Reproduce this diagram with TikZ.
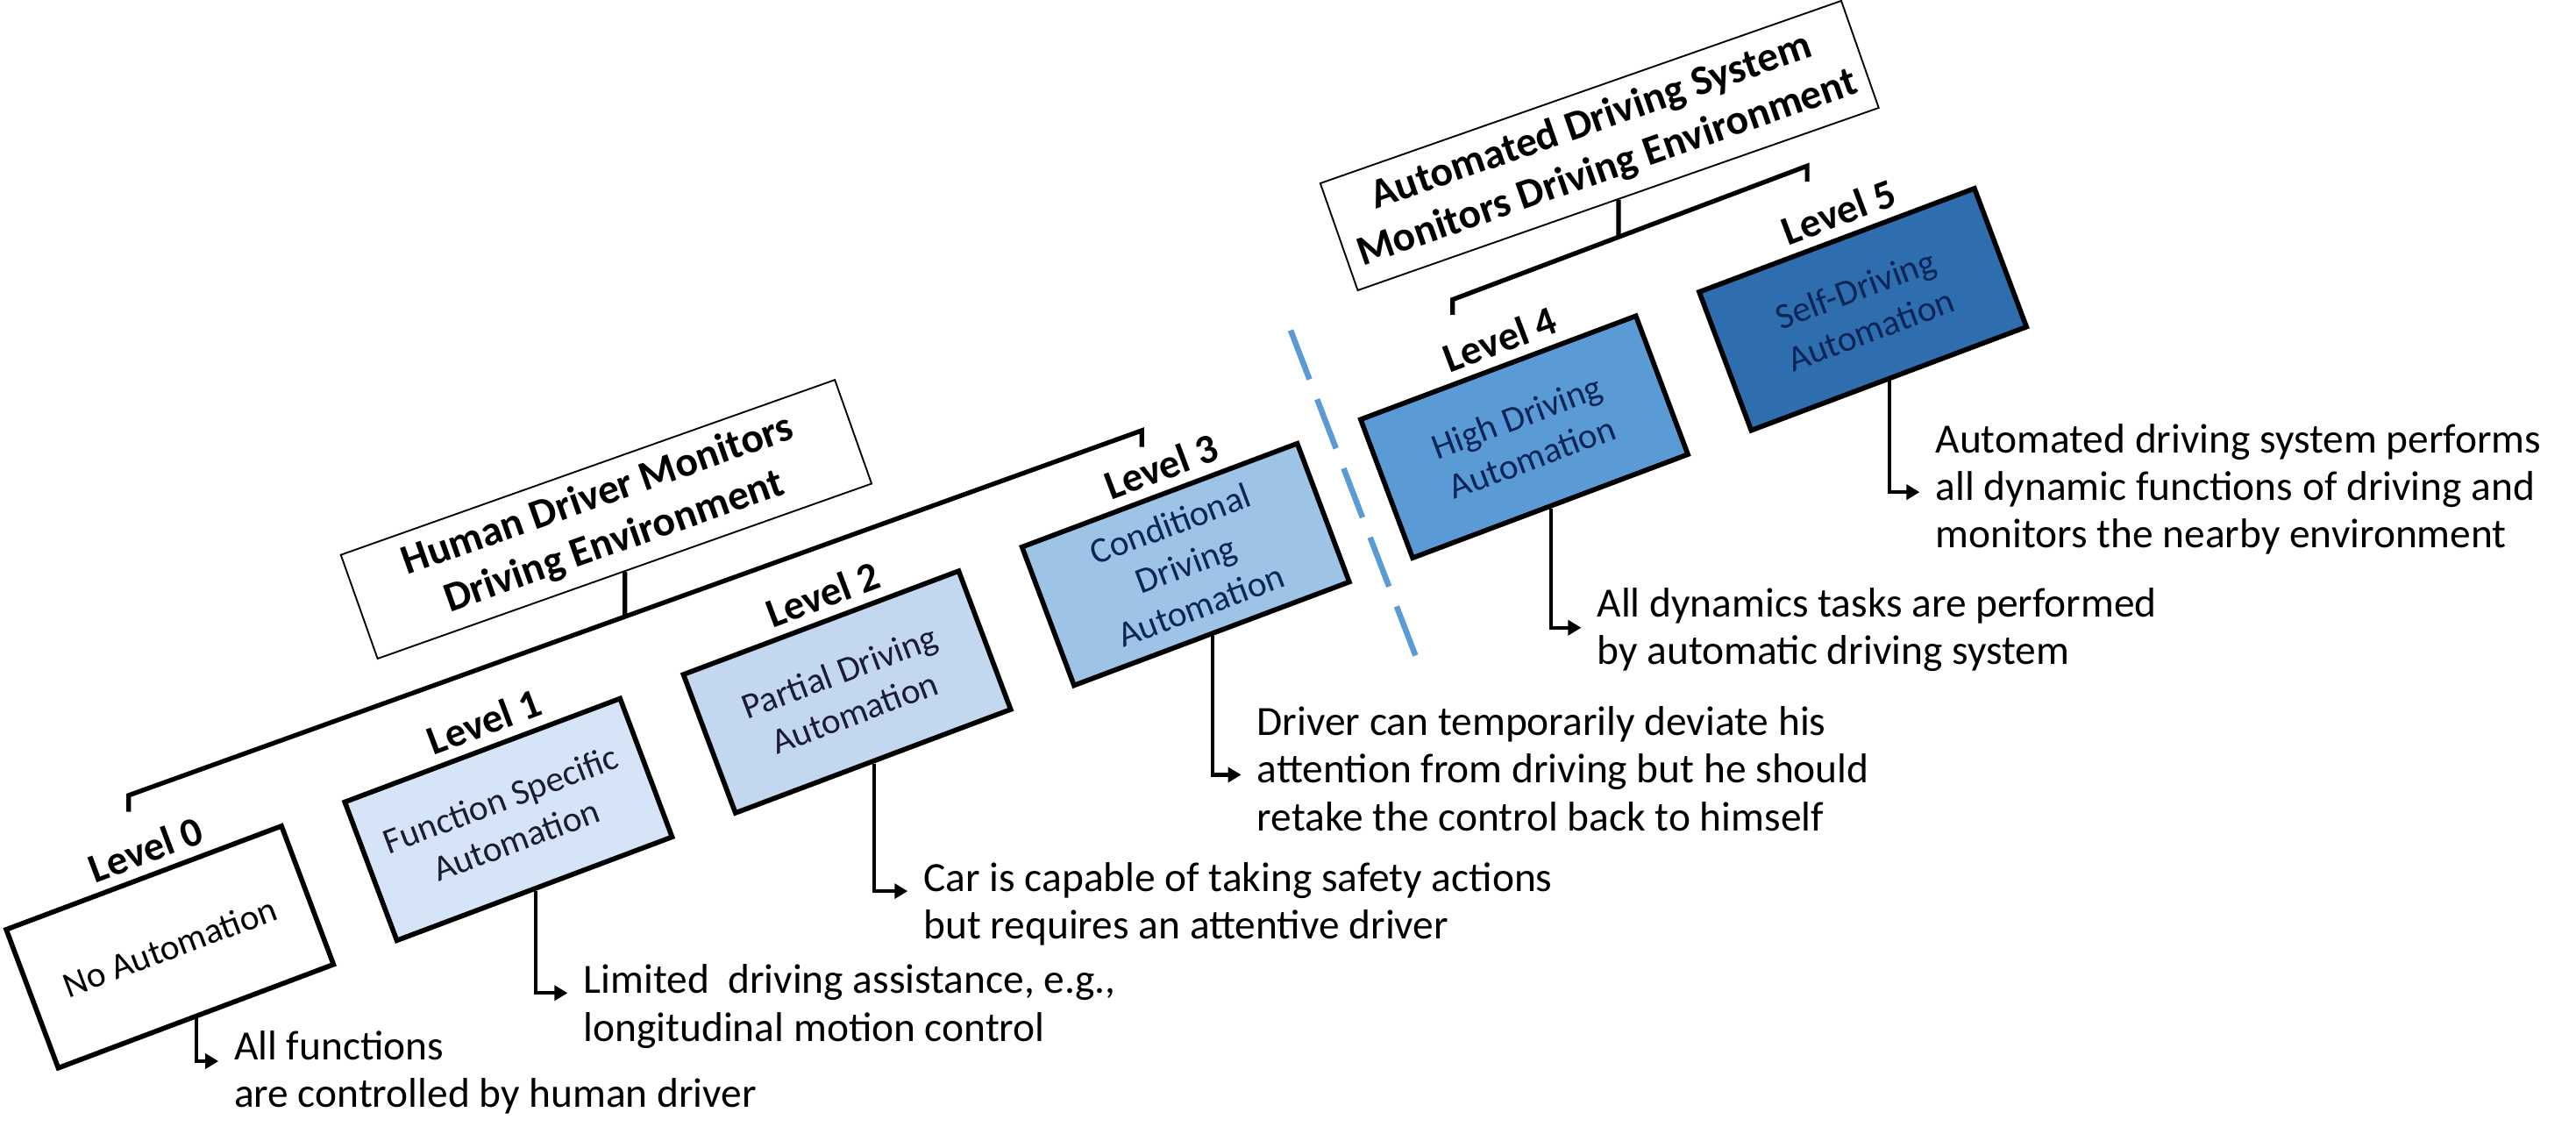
\documentclass[tikz,border=0pt]{standalone}
\usepackage{fontspec}
\setmainfont{Carlito}
\usetikzlibrary{arrows.meta,calc,intersections}
\definecolor{fillA}{HTML}{D5E5F7}
\definecolor{fillB}{HTML}{C3D8EE}
\definecolor{fillC}{HTML}{9DC3E6}
\definecolor{fillD}{HTML}{5B9BD5}
\definecolor{fillE}{HTML}{2E6DAE}
\definecolor{navytxt}{HTML}{0C2557}
\definecolor{darktxt}{HTML}{1A1A3A}
\definecolor{dashblue}{HTML}{5B9BD5}
\begin{document}
\begin{tikzpicture}[x=1pt,y=1pt,
  lvbox/.style={draw=black, line width=3pt, rotate=20.6, minimum width=179pt, minimum height=90pt, inner sep=0pt, align=center, font=\fontsize{22}{26.5}\selectfont},
  lvlabel/.style={rotate=20.6, inner sep=0pt, font=\fontsize{25}{30}\selectfont\bfseries},
  callout/.style={draw=black, line width=1pt, fill=white, inner sep=0pt, align=center, font=\fontsize{25.5}{30}\selectfont\bfseries},
  desc/.style={anchor=base west, inner sep=0pt, align=left, font=\fontsize{25.3}{29}\selectfont},
  conn/.style={line width=2.2pt, -{Triangle[length=8pt,width=9pt]}},
  brk/.style={line width=2.8pt, line cap=butt, line join=miter},
  divider/.style={draw=dashblue, line width=3.5pt, dash pattern=on 32pt off 13pt}
]
\useasboundingbox (0,0) rectangle (1568,698.6);

% level boxes
\node[lvbox, fill=white] (b0) at (103.4,122.3) {No Automation};
\node[lvbox, fill=fillA, text=darktxt] (b1) at (309.5,199.9) {Function Specific\\Automation};
\node[lvbox, fill=fillB, text=darktxt] (b2) at (515.6,277.5) {Partial Driving\\Automation};
\node[lvbox, fill=fillC, text=navytxt] (b3) at (721.7,355.1) {Conditional\\Driving\\Automation};
\node[lvbox, fill=fillD, text=navytxt] (b4) at (927.8,432.7) {High Driving\\Automation};
\node[lvbox, fill=fillE, text=navytxt] (b5) at (1133.9,510.3) {Self-Driving\\Automation};

% level labels
\node[lvlabel] (l0) at ($(b0.center)!7pt!(b0.east)!61pt!90:(b0.east)$) {Level 0};
\node[lvlabel] (l1) at ($(b1.center)!7pt!(b1.east)!61pt!90:(b1.east)$) {Level 1};
\node[lvlabel] (l2) at ($(b2.center)!7pt!(b2.east)!61pt!90:(b2.east)$) {Level 2};
\node[lvlabel] (l3) at ($(b3.center)!7pt!(b3.east)!61pt!90:(b3.east)$) {Level 3};
\node[lvlabel] (l4) at ($(b4.center)!7pt!(b4.east)!61pt!90:(b4.east)$) {Level 4};
\node[lvlabel] (l5) at ($(b5.center)!7pt!(b5.east)!61pt!90:(b5.east)$) {Level 5};

% callouts
\node[callout, rotate=19.5, minimum width=319pt, minimum height=67pt] (h) at (369,382.6) {Human Driver Monitors\\Driving Environment};
\node[callout, rotate=19.3, minimum width=336pt, minimum height=69pt] (s) at (973.6,610) {Automated Driving System\\Monitors Driving Environment};

% bracket 1
\coordinate (k1a) at (78.3,204.6);
\coordinate (k1b) at (78.3,214.6);
\coordinate (k1c) at (695,436.6);
\coordinate (k1d) at (695,426.6);
\draw[brk] (k1a) -- (k1b) -- (k1c) -- (k1d);
\path[name path=k1line] (k1b) -- (k1c);
\path[name path=h1stub] (h.south) -- ++(0,-80);
\draw[brk, name intersections={of=k1line and h1stub, by=m1}] (h.south) -- (m1);

% bracket 2
\coordinate (k2a) at (884.2,507.1);
\coordinate (k2b) at (884.2,516.3);
\coordinate (k2c) at (1100,597.6);
\coordinate (k2d) at (1100,588.1);
\draw[brk] (k2a) -- (k2b) -- (k2c) -- (k2d);
\path[name path=k2line] (k2b) -- (k2c);
\path[name path=s1stub] (s.south) -- ++(0,-80);
\draw[brk, name intersections={of=k2line and s1stub, by=m2}] (s.south) -- (m2);

% divider
\coordinate (dv1) at (785.6,497.6);
\coordinate (dv2) at (862,298.6);
\draw[divider] (dv1) -- (dv2);

% descriptions (base = baseline of last line)
\node[desc] (t0) at (142.3,24.8) {All functions\\are controlled by human driver};
\node[desc] (t1) at (355,65.1) {Limited~~driving assistance, e.g.,\\longitudinal motion control};
\node[desc] (t2) at (562,127.1) {Car is capable of taking safety actions\\but requires an attentive driver};
\node[desc] (t3) at (765,193.1) {Driver can temporarily deviate his\\attention from driving but he should\\retake the control back to himself};
\node[desc] (t4) at (972,294.1) {All dynamics tasks are performed\\by automatic driving system};
\node[desc] (t5) at (1178,365.1) {Automated driving system performs\\all dynamic functions of driving and\\monitors the nearby environment};

% connectors
\coordinate (a0) at (133,52.8);
\coordinate (a1) at (345.5,94.3);
\coordinate (a2) at (552.5,156.3);
\coordinate (a3) at (755.5,227.1);
\coordinate (a4) at (962.5,316.6);
\coordinate (a5) at (1168.5,399.1);
\draw[conn] (b0.south) |- (a0);
\draw[conn] (b1.south) |- (a1);
\draw[conn] (b2.south) |- (a2);
\draw[conn] (b3.south) |- (a3);
\draw[conn] (b4.south) |- (a4);
\draw[conn] (b5.south) |- (a5);
\end{tikzpicture}
\end{document}
